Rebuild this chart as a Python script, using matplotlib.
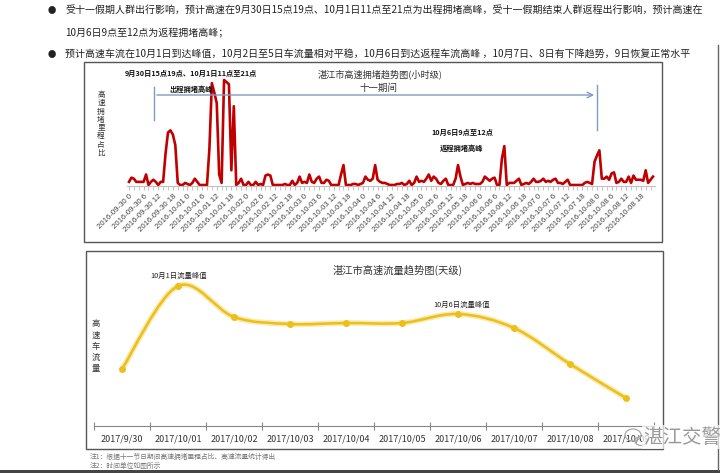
import matplotlib
matplotlib.use('Agg')
import matplotlib.pyplot as plt
from matplotlib.path import Path
from matplotlib.patches import PathPatch, Rectangle, Ellipse
import numpy as np

plt.rcParams['font.family'] = ['Noto Sans CJK SC', 'DejaVu Sans']

# hourly congestion share, one list per day (hours 0..23)
d0930 = [0.03, 0.07, 0.06, 0.03, 0.03, 0.03, 0.03, 0.10, 0.0, 0.03, 0.05, 0.03,
         0.0, 0.03, 0.03, 0.30, 0.50, 0.52, 0.48, 0.38, 0.02, 0.0, 0.0, 0.02]
d1001 = [0.01, 0.0, 0.02, 0.06, 0.03, 0.0, 0.0, 0.0, 0.0, 0.35, 0.97, 0.88,
         0.78, 0.10, 0.02, 1.0, 0.98, 0.96, 0.14, 0.75, 0.0, 0.02, 0.06, 0.0]
d1002 = [0.0, 0.03, 0.0, 0.0, 0.03, 0.0, 0.01, 0.0, 0.09, 0.10, 0.09, 0.0,
         0.0, 0.0, 0.0, 0.0, 0.01, 0.0, 0.0, 0.04, 0.0, 0.02, 0.08, 0.02]
d1003 = [0.03, 0.02, 0.10, 0.03, 0.02, 0.06, 0.08, 0.02, 0.02, 0.05, 0.04, 0.0,
         0.0, 0.0, 0.0, 0.10, 0.19, 0.0, 0.0, 0.0, 0.01, 0.01, 0.0, 0.01]
d1004 = [0.02, 0.08, 0.05, 0.04, 0.06, 0.19, 0.05, 0.03, 0.02, 0.02, 0.01, 0.0,
         0.0, 0.0, 0.01, 0.01, 0.02, 0.0, 0.01, 0.04, 0.0, 0.02, 0.08, 0.03]
d1005 = [0.04, 0.03, 0.06, 0.10, 0.04, 0.08, 0.06, 0.02, 0.01, 0.04, 0.06, 0.0,
         0.0, 0.0, 0.06, 0.19, 0.08, 0.0, 0.01, 0.02, 0.01, 0.02, 0.01, 0.01]
d1006 = [0.01, 0.03, 0.08, 0.06, 0.04, 0.06, 0.07, 0.0, 0.0, 0.25, 0.37, 0.0,
         0.02, 0.02, 0.02, 0.04, 0.06, 0.0, 0.01, 0.02, 0.01, 0.03, 0.06, 0.03]
d1007 = [0.03, 0.04, 0.06, 0.03, 0.04, 0.03, 0.05, 0.06, 0.02, 0.02, 0.01, 0.03,
         0.05, 0.0, 0.0, 0.0, 0.0, 0.0, 0.0, 0.02, 0.03, 0.02, 0.01, 0.22]
d1008 = [0.28, 0.33, 0.06, 0.06, 0.08, 0.05, 0.11, 0.12, 0.02, 0.03, 0.06, 0.03,
         0.03, 0.08, 0.02, 0.09, 0.05, 0.05, 0.05, 0.04, 0.14, 0.02, 0.05, 0.08]
hour_days = ['2016-09-30', '2016-10-01', '2016-10-02', '2016-10-03', '2016-10-04',
             '2016-10-05', '2016-10-06', '2016-10-07', '2016-10-08']
hour_ticks = [0, 6, 12, 18]

# daily traffic volume
day_labels = ['2017/9/30', '2017/10/01', '2017/10/02', '2017/10/03', '2017/10/04',
              '2017/10/05', '2017/10/06', '2017/10/07', '2017/10/08', '2017/10/09']
day_flow = [57, 140, 109, 102, 103, 103, 112, 98, 62, 28]

hourly = d0930 + d1001 + d1002 + d1003 + d1004 + d1005 + d1006 + d1007 + d1008

W, H = 720, 473
fig = plt.figure(figsize=(7.2, 4.73), dpi=100)


def rect(x0, y0, x1, y1):
    return [x0 / W, 1 - y1 / H, (x1 - x0) / W, (y1 - y0) / H]


def ftext(x, y, s, **kw):
    return fig.text(x / W, 1 - y / H, s, **kw)


# page text
ftext(52, 10, '●', fontsize=6, ha='center', va='center', color='#222')
ftext(52, 55, '●', fontsize=6, ha='center', va='center', color='#222')
ftext(65, 10, '受十一假期人群出行影响，预计高速在9月30日15点19点、10月1日11点至21点为出程拥堵高峰，受十一假期结束人群返程出行影响，预计高速在',
      fontsize=7.2, va='center', color='#222')
ftext(65, 32, '10月6日9点至12点为返程拥堵高峰；', fontsize=7.2, va='center', color='#222')
ftext(65, 55, '预计高速车流在10月1日到达峰值，10月2日至5日车流量相对平稳，10月6日到达返程车流高峰 ，10月7日、8日有下降趋势，9日恢复正常水平',
      fontsize=7.2, va='center', color='#222')

# frames
for x0, y0, x1, y1 in [(84, 62, 662, 242), (86, 251, 663, 449)]:
    fig.patches.append(Rectangle((x0 / W, 1 - y1 / H), (x1 - x0) / W, (y1 - y0) / H,
                                 transform=fig.transFigure, fill=False,
                                 edgecolor='#555555', linewidth=1))
fig.add_artist(plt.Line2D([718 / W, 718 / W], [1 - 45 / H, 1 - 470 / H],
                          transform=fig.transFigure, color='#666', lw=1))
fig.patches.append(Rectangle((0, 0), 1, 3 / H, transform=fig.transFigure,
                             color='#444', lw=0))

# ---- hourly chart
ax1 = fig.add_axes(rect(127, 70, 655, 186))
ax1.plot(range(len(hourly)), hourly, color='#c00000', lw=1.9)
ax1.set_xlim(-0.82, 215.82)
ax1.set_ylim(-0.0095, 1.095)
for s in ['top', 'right', 'left']:
    ax1.spines[s].set_visible(False)
ax1.spines['bottom'].set_color('#bfbfbf')
ax1.set_yticks([])
ticks = [i * 24 + h for i in range(len(hour_days)) for h in hour_ticks]
labels = [f'{d} {h}' for d in hour_days for h in hour_ticks]
ax1.set_xticks(ticks)
ax1.set_xticklabels(labels, rotation=45, ha='right', rotation_mode='anchor',
                    fontsize=5.6, color='#444', family=['Liberation Sans', 'DejaVu Sans'])
ax1.set_xticks(range(0, 216, 2), minor=True)
ax1.tick_params(axis='x', which='both', length=3, color='#bfbfbf', pad=2)

# holiday arrow
ax1.plot([10.3, 10.3], [0.62, 0.93], color='#7f9cbf', lw=1)
ax1.plot([192, 192], [0.52, 0.95], color='#7f9cbf', lw=1)
ax1.annotate('', xy=(192, 0.857), xytext=(10.3, 0.857),
             arrowprops=dict(arrowstyle='->', color='#7f9cbf', lw=1))

ftext(191, 73, '9月30日15点19点、10月1日11点至21点', fontsize=5.2, fontweight='bold',
      ha='center', va='center', color='#111')
ftext(191, 89, '出程拥堵高峰', fontsize=5.2, fontweight='bold', ha='center', va='center', color='#111')
ftext(380, 74, '湛江市高速拥堵趋势图(小时级)', fontsize=6.6, ha='center', va='center', color='#333')
ftext(378, 88, '十一期间', fontsize=6.8, ha='center', va='center', color='#333')
ftext(462, 132, '10月6日9点至12点', fontsize=5.2, fontweight='bold', ha='center', va='center', color='#111')
ftext(462, 148, '返程拥堵高峰', fontsize=5.2, fontweight='bold', ha='center', va='center', color='#111')
ftext(101, 124, '\n'.join('高速拥堵里程占比'), fontsize=5.5, ha='center', va='center',
      linespacing=1.05, color='#333')

# ---- daily chart
ax2 = fig.add_axes(rect(94, 255, 654, 426))
x = np.arange(len(day_flow))
y = np.array(day_flow, dtype=float)
# smoothed line through the points (cubic bezier segments)
verts = [(x[0], y[0])]
codes = [Path.MOVETO]
n = len(x)
for i in range(n - 1):
    p0 = (x[max(i - 1, 0)], y[max(i - 1, 0)])
    p1 = (x[i], y[i])
    p2 = (x[i + 1], y[i + 1])
    p3 = (x[min(i + 2, n - 1)], y[min(i + 2, n - 1)])
    c1 = (p1[0] + (p2[0] - p0[0]) / 6, p1[1] + (p2[1] - p0[1]) / 6)
    c2 = (p2[0] - (p3[0] - p1[0]) / 6, p2[1] - (p3[1] - p1[1]) / 6)
    verts += [c1, c2, p2]
    codes += [Path.CURVE4] * 3
ax2.add_patch(PathPatch(Path(verts, codes), fill=False, edgecolor='#f5dc7a', lw=4, alpha=0.6))
ax2.add_patch(PathPatch(Path(verts, codes), fill=False, edgecolor='#ecbf1a', lw=1.8))
ax2.plot(x, y, 'o', color='#ecbf1a', ms=4)
ax2.set_xlim(-0.5, 9.5)
ax2.set_ylim(0, 171)
for s in ['top', 'right', 'left']:
    ax2.spines[s].set_visible(False)
ax2.spines['bottom'].set_color('#888')
ax2.set_yticks([])
ax2.set_xticks(np.arange(-0.5, 10, 1))
ax2.set_xticklabels([])
ax2.set_xticks(x, minor=True)
ax2.set_xticklabels(day_labels, minor=True, fontsize=6.5, color='#333')
ax2.tick_params(axis='x', which='major', direction='inout', length=6, color='#888')
ax2.tick_params(axis='x', which='minor', length=0, pad=6)

ftext(398, 270, '湛江市高速流量趋势图(天级)', fontsize=7.4, ha='center', va='center', color='#333')
ftext(179, 276, '10月1日流量峰值', fontsize=5.3, ha='center', va='center', color='#222')
ftext(462, 305, '10月6日流量峰值', fontsize=5.3, ha='center', va='center', color='#222')
ftext(96, 346, '\n'.join('高速车流量'), fontsize=6, ha='center', va='center',
      linespacing=1.3, color='#333')

# watermark
wm = ftext(682, 437, '湛江交警', fontsize=14, ha='center', va='center', color='#999999')
wm.set_bbox(dict(facecolor='white', edgecolor='none', alpha=0.7, pad=1))
for cx, cy, ew, eh in [(633, 435, 16, 12), (641, 441, 12, 9)]:
    fig.patches.append(Ellipse((cx / W, 1 - cy / H), ew / W, eh / H, transform=fig.transFigure,
                               fill=False, edgecolor='#aaaaaa', lw=0.9))

# notes
ftext(90, 457, '注1：根据十一节日期间高速拥堵里程占比、高速流量统计得出', fontsize=4.9, va='center', color='#777')
ftext(90, 466, '注2：时间单位如图所示', fontsize=4.9, va='center', color='#777')

fig.savefig('out.png', dpi=100)
